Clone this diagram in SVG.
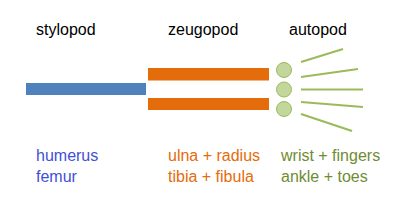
<svg xmlns="http://www.w3.org/2000/svg" width="397" height="201" viewBox="0 0 397 201">
<style>
text{font-family:"Liberation Sans",Arial,sans-serif;font-size:16px}
.h{fill:#000}
.b{fill:#3f4fd6}
.o{fill:#e46c0a}
.g{fill:#6f8c33}
.finger{stroke:#9bbb59;stroke-width:2.2;fill:none}
.joint{fill:#c3d69b;stroke:#9bbb59;stroke-width:1}
</style>
<rect width="397" height="201" fill="#fff"/>
<g id="stylopod">
<text class="h" x="36" y="35">stylopod</text>
<rect x="26" y="83" width="120" height="12" fill="#4f81bd"/>
<text class="b" x="36" y="161">humerus</text>
<text class="b" x="36" y="182">femur</text>
</g>
<g id="zeugopod">
<text class="h" x="168" y="35">zeugopod</text>
<rect x="148" y="68" width="121" height="12.5" fill="#e46c0a"/>
<rect x="148" y="98" width="121" height="12" fill="#e46c0a"/>
<text class="o" x="168" y="161">ulna + radius</text>
<text class="o" x="168" y="182">tibia + fibula</text>
</g>
<g id="autopod">
<text class="h" x="289" y="35">autopod</text>
<circle class="joint" cx="284" cy="70" r="7.5"/>
<circle class="joint" cx="284" cy="89.5" r="7.5"/>
<circle class="joint" cx="284" cy="109" r="7.5"/>
<text class="g" x="281" y="161">wrist + fingers</text>
<text class="g" x="281" y="182">ankle + toes</text>
</g>
<g id="connectors">
<line class="finger" x1="301" y1="62" x2="343" y2="49"/>
<line class="finger" x1="301" y1="77" x2="358" y2="69"/>
<line class="finger" x1="301" y1="89.5" x2="363" y2="89.5"/>
<line class="finger" x1="301" y1="102" x2="363" y2="107"/>
<line class="finger" x1="301" y1="114" x2="352" y2="131"/>
</g>
</svg>
